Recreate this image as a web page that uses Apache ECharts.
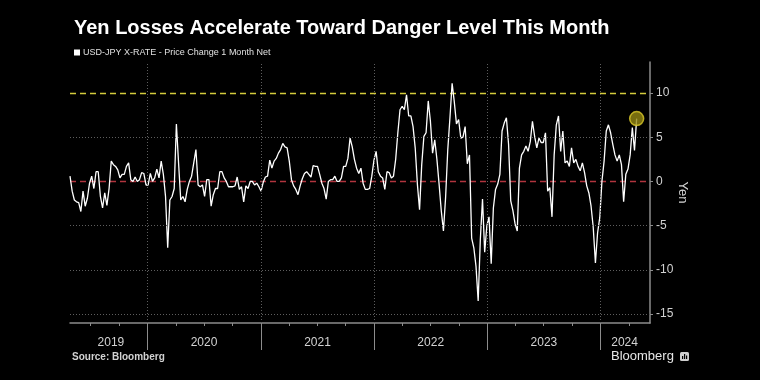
<!DOCTYPE html>
<html><head><meta charset="utf-8">
<script src="https://cdn.jsdelivr.net/npm/echarts@6/dist/echarts.min.js"></script>
<style>html,body{margin:0;padding:0;background:#000;}#c{width:760px;height:380px;}</style>
</head><body><div id="c"></div>
<script>
// ---- data ----
const titleText = 'Yen Losses Accelerate Toward Danger Level This Month';
const seriesName = 'USD-JPY X-RATE - Price Change 1 Month Net';
const sourceText = 'Source: Bloomberg';
const startDate = [2019, 4, 26];   // first weekly observation
const stepDays = 7;                 // weekly observations
const usdJpy1mChange = [
  0.6, -1.1, -2.1, -2.3, -2.4, -3.4, -1.1, -2.8, -1.9, -0.2,
  0.6, -0.8, 1.1, 1.1, -1.7, -3.0, -1.3, -2.7, -0.8, 2.3,
  1.9, 1.7, 1.3, 0.4, 0.8, 0.8, 1.7, 2.1, 0.2, 0.0,
  0.5, 0.0, 0.2, 1.0, 0.9, -0.4,
  -0.4, 0.9, 0.0, 0.4, 1.4, 0.4, 2.3, 0.8, -1.7, -7.5,
  -2.1, -1.7, -0.8, 6.5, 2.1, -2.1, -1.7, -2.3, -0.9, 0.0,
  0.6, 2.1, 3.6, -0.4, -0.6, -0.4, -1.7, 0.2, 0.2, -2.8,
  -1.5, -0.8, -0.8, 1.1, 1.1, 0.4, 0.0,
  -0.6, -0.6, -0.6, -0.5, 0.5, -0.9, -0.6, -2.3, -0.5, -0.8,
  0.0, 0.0, -0.4, -0.2, -0.6, -1.1, -0.1, 0.5, 0.6, 2.4,
  1.5, 2.3, 2.6, 3.2, 3.6, 4.3, 3.9, 3.8, 2.3, 0.2,
  -0.5, -0.9, -1.5, -0.5, 0.3, 0.9, 1.1,
  0.8, 0.5, 1.8, 1.7, 1.7, 0.8, -0.2, -0.8, -2.0, 0.0,
  0.2, 0.2, 0.6, 0.0, 0.0, 0.4, 1.7, 1.7, 2.6, 4.9,
  3.9, 2.5, 1.5, 0.9, 1.5, -0.2, -0.9, -0.9, -0.8, 0.6,
  2.4, 3.4, 1.1, 0.6, 0.4, -0.9, 1.1,
  1.0, 0.4, 0.6, 2.5, 5.5, 8.1, 8.5, 8.1, 9.8, 7.4,
  7.4, 6.2, 3.8, -0.3, -3.2, 1.9, 5.1, 5.5, 9.1, 6.8,
  3.2, 4.7, 2.5, -0.3, -3.3, -5.6, -1.8, 3.6, 7.2, 11.1,
  9.0, 6.5, 7.0, 4.9, 5.0, 6.2, 2.0,
  3.0, -6.4, -7.5, -9.6, -13.5, -6.5, -2.0, -8.0, -5.0, -4.0,
  -9.3, -3.0, -0.9, -0.3, 0.8, 5.7, 6.6, 7.2, 4.2, -2.2,
  -3.3, -4.8, -5.6, 1.5, 3.0, 3.4, 4.0, 3.4, 4.5, 6.8,
  5.1, 3.8, 4.9, 4.4, 4.4, 5.5, -1.1,
  -0.7, -4.0, 3.0, 6.4, 7.4, 3.4, 5.7, 2.1, 2.3, 1.7,
  3.8, 2.1, 2.5, 1.7, 1.2, 2.1, 1.0, -0.5, -1.3, -2.8,
  -5.2, -9.2, -5.8, -4.1, 0.0, 2.3, 5.7, 6.4, 5.5, 4.2,
  3.0, 2.3, 3.0, 1.9, -2.3, 0.8, 1.4, 3.0, 6.1, 3.5,
  7.1
];
const dangerLevel = 10;
const zeroLevel = 0;
const yTickValues = [-15, -10, -5, 0, 5, 10];
const yMin = -16, yMax = 13.5;
const xMinDate = [2019, 4, 26], xMaxDate = [2024, 6, 8];
const yearLabels = ['2019', '2020', '2021', '2022', '2023', '2024'];
const yearLabelDates = [[2019, 9, 5], [2020, 7, 1], [2021, 7, 2], [2022, 7, 2], [2023, 7, 2], [2024, 3, 18]];
const yearStartDates = [[2020, 1, 1], [2021, 1, 1], [2022, 1, 1], [2023, 1, 1], [2024, 1, 1]];
const quarterTickDates = [
  [2019, 7, 1], [2019, 10, 1], [2020, 4, 1], [2020, 7, 1], [2020, 10, 1],
  [2021, 4, 1], [2021, 7, 1], [2021, 10, 1], [2022, 4, 1], [2022, 7, 1], [2022, 10, 1],
  [2023, 4, 1], [2023, 7, 1], [2023, 10, 1], [2024, 4, 1]
];

// ---- build ----
const ms = d => new Date(d[0], d[1] - 1, d[2]).getTime();
const t0 = ms(startDate);
const lineData = usdJpy1mChange.map((v, i) => [t0 + i * stepDays * 86400000, v]);
const lastPoint = lineData[lineData.length - 1];
const labelMs = yearLabelDates.map(ms);
const axisGray = '#8c8c8c';
const gridGray = '#5e5e5e';
const textGray = '#d2d2d2';
const FONT = 'Liberation Sans, Arial, sans-serif';
const gridStyle = {color: gridGray, type: [1, 2], width: 1};

const gridMarks = yTickValues.filter(v => v !== dangerLevel && v !== zeroLevel)
  .map(v => ({yAxis: v, lineStyle: gridStyle}))
  .concat(yearStartDates.map(d => ({xAxis: ms(d), lineStyle: gridStyle})));

const chart = echarts.init(document.getElementById('c'), null, {renderer: 'canvas'});
chart.setOption({
  backgroundColor: '#000',
  animation: false,
  textStyle: {fontFamily: FONT},
  title: {
    text: titleText, left: 69, top: 13,
    textStyle: {color: '#fff', fontSize: 20, fontWeight: 'bold', fontFamily: FONT}
  },
  legend: {
    data: [seriesName], left: 69, top: 43, icon: 'rect', itemWidth: 6, itemHeight: 6, itemGap: 4,
    textStyle: {color: '#e0e0e0', fontSize: 9, fontFamily: FONT, padding: [0, 0, 0, -2]}
  },
  grid: {left: 70, right: 110, top: 62, bottom: 57},
  xAxis: [{
    type: 'value', min: ms(xMinDate), max: ms(xMaxDate), scale: true,
    axisLine: {show: true, onZero: false, lineStyle: {color: axisGray, width: 1.5}},
    axisTick: {show: true, customValues: quarterTickDates.map(ms), length: 3, lineStyle: {color: axisGray}},
    axisLabel: {
      customValues: labelMs, color: textGray, fontSize: 12, margin: 14, hideOverlap: false,
      showMinLabel: true, showMaxLabel: true,
      formatter: v => { const i = labelMs.indexOf(v); return i >= 0 ? yearLabels[i] : ''; }
    },
    splitLine: {show: false}
  }, {
    type: 'value', min: ms(xMinDate), max: ms(xMaxDate), scale: true, position: 'bottom',
    axisLine: {show: false, onZero: false},
    axisTick: {show: true, customValues: yearStartDates.map(ms), length: 27, lineStyle: {color: axisGray}},
    axisLabel: {show: false},
    splitLine: {show: false}
  }],
  yAxis: {
    type: 'value', position: 'right', min: yMin, max: yMax,
    axisLine: {show: true, onZero: false, lineStyle: {color: axisGray, width: 1.5}},
    axisTick: {show: true, customValues: yTickValues, length: 3, lineStyle: {color: axisGray}},
    axisLabel: {customValues: yTickValues, color: textGray, fontSize: 12, margin: 6},
    splitLine: {show: false},
    name: 'Yen', nameLocation: 'middle', nameRotate: -90, nameGap: 26, nameMoveOverlap: false,
    nameTextStyle: {color: textGray, fontSize: 13}
  },
  series: [{
    name: 'grid', type: 'line', data: [], silent: true, z: 1,
    markLine: {silent: true, symbol: 'none', label: {show: false}, data: gridMarks}
  }, {
    name: seriesName, type: 'line', data: lineData, showSymbol: false, symbol: 'none',
    lineStyle: {color: '#ffffff', width: 1.3}, itemStyle: {color: '#ffffff'}, z: 3,
    markLine: {
      silent: true, symbol: 'none', label: {show: false}, z: 2,
      data: [
        {yAxis: dangerLevel, lineStyle: {color: '#d4cb3c', type: [6, 4], width: 1.3}},
        {yAxis: zeroLevel, lineStyle: {color: '#b0343e', type: [6, 4], width: 1.3}}
      ]
    }
  }, {
    name: 'last', type: 'scatter', data: [lastPoint], symbolSize: 14, z: 5,
    itemStyle: {color: '#958813', borderColor: '#dccb2a', borderWidth: 1.5}
  }],
  graphic: [
    {type: 'text', left: 72, top: 352, style: {text: sourceText, fill: textGray, font: 'bold 10px ' + FONT}},
    {type: 'text', left: 611, top: 350, style: {text: 'Bloomberg', fill: '#e6e6e6', font: '500 13px ' + FONT}},
    {type: 'rect', left: 680, top: 352, shape: {width: 9, height: 9, r: 1.5}, style: {fill: '#cfcfcf'}},
    {type: 'rect', left: 682, top: 356, shape: {width: 1.2, height: 3}, style: {fill: '#000'}},
    {type: 'rect', left: 684, top: 354, shape: {width: 1.2, height: 5}, style: {fill: '#000'}},
    {type: 'rect', left: 686, top: 355.5, shape: {width: 1.2, height: 3.5}, style: {fill: '#000'}}
  ]
});
</script></body></html>
